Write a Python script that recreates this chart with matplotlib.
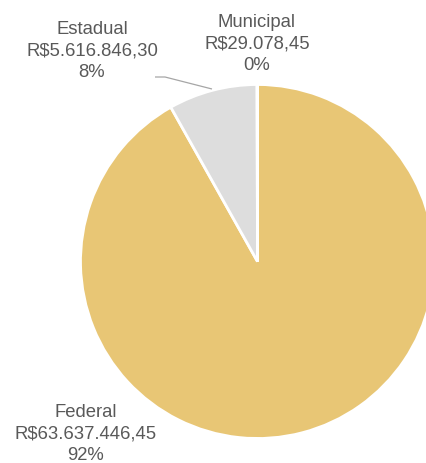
"""
Pie of transfer sources (Federal / Estadual / Municipal), Excel-like look.
"""
import matplotlib
matplotlib.use("Agg")
import matplotlib.pyplot as plt

categorias = ["Federal", "Estadual", "Municipal"]
valores = [63637446.45, 5616846.30, 29078.45]
valores_txt = ["R$63.637.446,45", "R$5.616.846,30", "R$29.078,45"]
percentuais = ["92%", "8%", "0%"]

cores = ["#E8C675", "#DDDDDD", "#DDDDDD"]
texto_cor = "#595959"

W, H = 427, 464
fig = plt.figure(figsize=(W / 100, H / 100), dpi=100)
ax = fig.add_axes([0, 0, 1, 1])

# work in pixel coords, y up
cx, cy, r = 257.5, H - 262.5, 177
ax.pie(valores, colors=cores, startangle=90, counterclock=False,
       center=(cx, cy), radius=r,
       wedgeprops=dict(edgecolor="white", linewidth=2.0))
ax.set_xlim(0, W)
ax.set_ylim(0, H)
ax.set_aspect("equal")
ax.axis("off")

# label positions (x center, baseline of first line) in pixels from top
pos = {"Federal": (86, 417), "Estadual": (92, 34), "Municipal": (257, 27)}
passo = 21.5
for nome, vtxt, pct in zip(categorias, valores_txt, percentuais):
    x, y0 = pos[nome]
    for k, linha in enumerate([nome, vtxt, pct]):
        ax.text(x, H - (y0 + k * passo), linha, ha="center", va="baseline",
                fontsize=13.3, color=texto_cor, family="Liberation Sans")

# leader line for Estadual
ax.plot([155, 165, 212], [H - 78, H - 78, H - 90], color="#A6A6A6",
        lw=0.9, solid_capstyle="butt")

fig.savefig("out.png", dpi=100)
